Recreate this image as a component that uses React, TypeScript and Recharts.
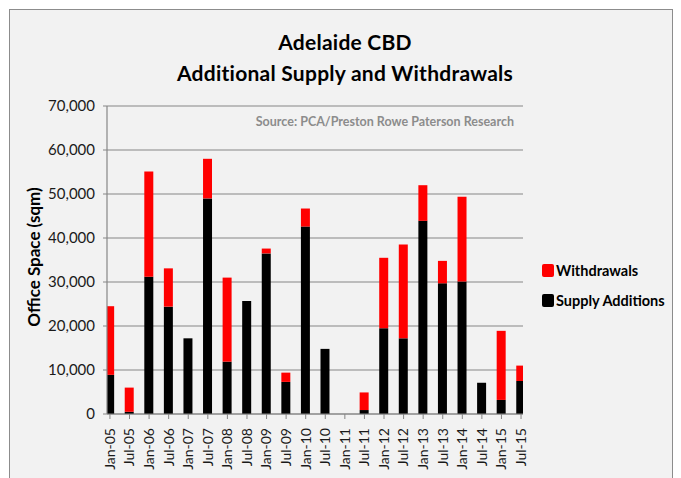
import { Bar, BarChart, CartesianGrid, Legend, XAxis, YAxis } from "recharts";

const periods = [
  "Jan-05", "Jul-05", "Jan-06", "Jul-06", "Jan-07", "Jul-07", "Jan-08", "Jul-08",
  "Jan-09", "Jul-09", "Jan-10", "Jul-10", "Jan-11", "Jul-11", "Jan-12", "Jul-12",
  "Jan-13", "Jul-13", "Jan-14", "Jul-14", "Jan-15", "Jul-15",
];

// sqm
const supplyAdditions = [
  8900, 500, 31200, 24400, 17200, 49000, 11900, 25700, 36500, 7300, 42600, 14800,
  0, 900, 19500, 17200, 43900, 29700, 30100, 7100, 3200, 7500,
];
const withdrawals = [
  15600, 5500, 23900, 8700, 0, 9000, 19100, 0, 1100, 2100, 4100, 0,
  0, 4000, 16000, 21300, 8100, 5100, 19300, 0, 15700, 3500,
];

const yTicks = [0, 10000, 20000, 30000, 40000, 50000, 60000, 70000];

const rows = periods.map((label, idx) => ({
  idx,
  label,
  supply: supplyAdditions[idx],
  withdrawals: withdrawals[idx],
}));

const FONT = "Lato, 'Open Sans', sans-serif";
const GRID = "#868686";

const PeriodTick = (props: any) => {
  const { x, y, payload } = props;
  return (
    <g transform={`translate(${x},${y})`}>
      <text
        transform="rotate(-90)"
        x={-7}
        y={0}
        dy="0.35em"
        textAnchor="end"
        fontSize={14}
        fontFamily={FONT}
        fill="#1a1a1a"
      >
        {periods[payload.value]}
      </text>
    </g>
  );
};

const LegendBox = (props: any) => {
  const items = [...(props.payload ?? [])].reverse();
  return (
    <div style={{ fontFamily: FONT, fontWeight: 700, fontSize: 14.5, color: "#000" }}>
      {items.map((it: any) => (
        <div key={it.value} style={{ display: "flex", alignItems: "center", height: 30 }}>
          <span
            style={{
              display: "inline-block",
              width: 12,
              height: 13,
              borderRadius: 2,
              background: it.color,
              marginRight: 2,
            }}
          />
          {it.value}
        </div>
      ))}
    </div>
  );
};

const AxisTitle = (props: any) => {
  const { viewBox } = props;
  const cx = viewBox.x - 4;
  const cy = viewBox.y + viewBox.height / 2 - 3;
  return (
    <text
      x={cx}
      y={cy}
      transform={`rotate(-90, ${cx}, ${cy})`}
      textAnchor="middle"
      dominantBaseline="central"
      fontFamily={FONT}
      fontWeight={700}
      fontSize={17}
      fill="#000"
    >
      Office Space (sqm)
    </text>
  );
};

export default function App() {
  return (
    <div style={{ position: "absolute", left: 0, top: 0, width: 681, height: 478, background: "#fff", overflow: "hidden" }}>
      <div
        style={{
          position: "absolute",
          left: 9,
          top: 9,
          width: 662,
          height: 480,
          border: "1px solid #8c8c8c",
          background: "#f2f2f2",
        }}
      />
      <div
        style={{
          position: "absolute",
          left: 0,
          top: 26,
          width: 690,
          textAlign: "center",
          fontFamily: FONT,
          fontWeight: 700,
          fontSize: 21,
          letterSpacing: 0.25,
          lineHeight: "31px",
          color: "#000",
        }}
      >
        <div>Adelaide CBD</div>
        <div>Additional Supply and Withdrawals</div>
      </div>
      <div
        style={{
          position: "absolute",
          right: 681 - 514,
          top: 114,
          fontFamily: FONT,
          fontWeight: 700,
          fontSize: 12.5,
          color: "#8c8c8c",
          whiteSpace: "nowrap",
        }}
      >
        Source: PCA/Preston Rowe Paterson Research
      </div>
      <div style={{ position: "absolute", left: 0, top: 0 }}>
        <BarChart
          width={681}
          height={478}
          data={rows}
          margin={{ top: 106, right: 158, bottom: 0, left: 37 }}
        >
          <CartesianGrid vertical={false} stroke={GRID} strokeWidth={1.2} />
          <XAxis
            type="number"
            dataKey="idx"
            domain={[-0.15, 21.1]}
            ticks={rows.map((r) => r.idx)}
            interval={0}
            allowDataOverflow
            height={64}
            tick={<PeriodTick />}
            tickSize={5}
            axisLine={{ stroke: GRID, strokeWidth: 1.2 }}
            tickLine={{ stroke: GRID }}
          />
          <YAxis
            width={70}
            domain={[0, 70000]}
            ticks={yTicks}
            interval={0}
            tickFormatter={(v: number) => v.toLocaleString("en-US")}
            tickSize={4}
            tickMargin={8}
            axisLine={{ stroke: GRID, strokeWidth: 1.2 }}
            tickLine={{ stroke: GRID }}
            tick={{ fontFamily: FONT, fontSize: 15, fill: "#1a1a1a" }}
            label={{ content: <AxisTitle /> }}
          />
          <Bar
            dataKey="supply"
            name="Supply Additions"
            stackId="space"
            fill="#000000"
            barSize={9}
            isAnimationActive={false}
          />
          <Bar
            dataKey="withdrawals"
            name="Withdrawals"
            stackId="space"
            fill="#ff0000"
            barSize={9}
            isAnimationActive={false}
          />
          <Legend
            layout="vertical"
            align="center"
            verticalAlign="middle"
            wrapperStyle={{ left: 542, top: 255, width: "auto", height: "auto" }}
            content={<LegendBox />}
          />
        </BarChart>
      </div>
    </div>
  );
}
